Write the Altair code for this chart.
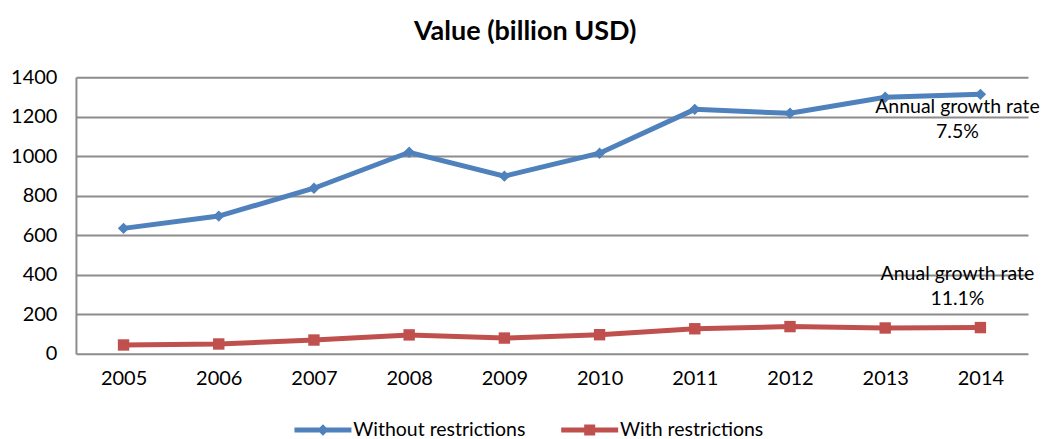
import altair as alt
import pandas as pd

years = ["2005", "2006", "2007", "2008", "2009", "2010", "2011", "2012", "2013", "2014"]
without_restrictions = [635, 697, 838, 1020, 899, 1015, 1237, 1217, 1298, 1313]
with_restrictions = [45, 50, 70, 96, 80, 97, 127, 138, 131, 133]
series_names = ["Without restrictions", "With restrictions"]
series_colors = ["#4F81BD", "#C0504D"]
series_markers = ["diamond", "square"]

ann_text = ["Annual growth rate\n7.5%", "Anual growth rate\n11.1%"]
ann_value = [1250, 402]
ann_year = ["2014", "2014"]

rows = []
for y, a, b in zip(years, without_restrictions, with_restrictions):
    rows.append({"year": y, "value": a, "series": series_names[0]})
    rows.append({"year": y, "value": b, "series": series_names[1]})
df = pd.DataFrame(rows)
ann_df = pd.DataFrame({"year": ann_year, "value": ann_value, "text": ann_text})

FONT = "Lato"
GRID = "#8C8C8C"

x_enc = alt.X("year:O", title=None, sort=years,
              scale=alt.Scale(type="point", padding=0.5),
              axis=alt.Axis(labelAngle=0, ticks=False, domain=False, grid=False,
                            labelFont=FONT, labelFontSize=20, labelColor="#000000",
                            labelPadding=15))
y_enc = alt.Y("value:Q", title=None,
              scale=alt.Scale(domain=[0, 1400], nice=False),
              axis=alt.Axis(values=[0, 200, 400, 600, 800, 1000, 1200, 1400], format="d",
                            labelOverlap=False, labelBound=False,
                            ticks=False, domain=True, domainColor=GRID, domainWidth=2,
                            grid=True, gridColor=GRID, gridWidth=2,
                            labelFont=FONT, labelFontSize=20, labelColor="#000000",
                            labelPadding=19))

# legend symbols: a thick line segment with the series marker on it
path_diamond = "M-9.8,-0.5 L1.6,-0.5 L1.6,0.5 L-9.8,0.5 Z M-4.1,-1.15 L-2.95,0 L-4.1,1.15 L-5.25,0 Z"
path_square = "M-9.8,-0.5 L1.6,-0.5 L1.6,0.5 L-9.8,0.5 Z M-5.2,-1.1 L-3.0,-1.1 L-3.0,1.1 L-5.2,1.1 Z"

legend_cfg = dict(orient="none", legendX=258, legendY=343, direction="horizontal", title=None,
                  symbolSize=100, symbolOpacity=1, symbolStrokeWidth=0,
                  labelFont=FONT, labelFontSize=19.5, labelColor="#000000", labelLimit=400,
                  labelOffset=0, columnPadding=35, padding=0)

color_enc = alt.Color("series:N", scale=alt.Scale(domain=series_names, range=series_colors),
                      legend=alt.Legend(**legend_cfg))

base = alt.Chart(df)

legend_layer = base.mark_point(filled=True, opacity=0).encode(
    x=x_enc, y=y_enc, color=color_enc,
    shape=alt.Shape("series:N", scale=alt.Scale(domain=series_names, range=[path_diamond, path_square]),
                    legend=alt.Legend(**legend_cfg)),
)

lines = base.mark_line(strokeWidth=5).encode(x=x_enc, y=y_enc, color=color_enc)

point_layers = [
    base.transform_filter(alt.datum.series == name)
    .mark_point(filled=True, opacity=1, shape=marker, size=130)
    .encode(x=x_enc, y=y_enc, color=color_enc)
    for name, marker in zip(series_names, series_markers)
]

ann = alt.Chart(ann_df).mark_text(font=FONT, fontSize=19.5, color="#000000", lineBreak="\n",
                                   lineHeight=25, align="center", baseline="middle", dx=-23).encode(
    x=x_enc, y=y_enc, text="text:N"
)

chart = alt.layer(legend_layer, lines, *point_layers, ann).properties(
    width=953, height=277,
    padding={"left": 2, "top": 10, "right": 0, "bottom": 0},
    title=alt.TitleParams("Value (billion USD)", font=FONT, fontSize=27, fontWeight="bold",
                          color="#000000", anchor="middle", frame="bounds", offset=21),
).configure_view(stroke=None).configure_axis(labelFont=FONT)

chart.save("out.html", embed_options={"renderer": "svg", "actions": False})
